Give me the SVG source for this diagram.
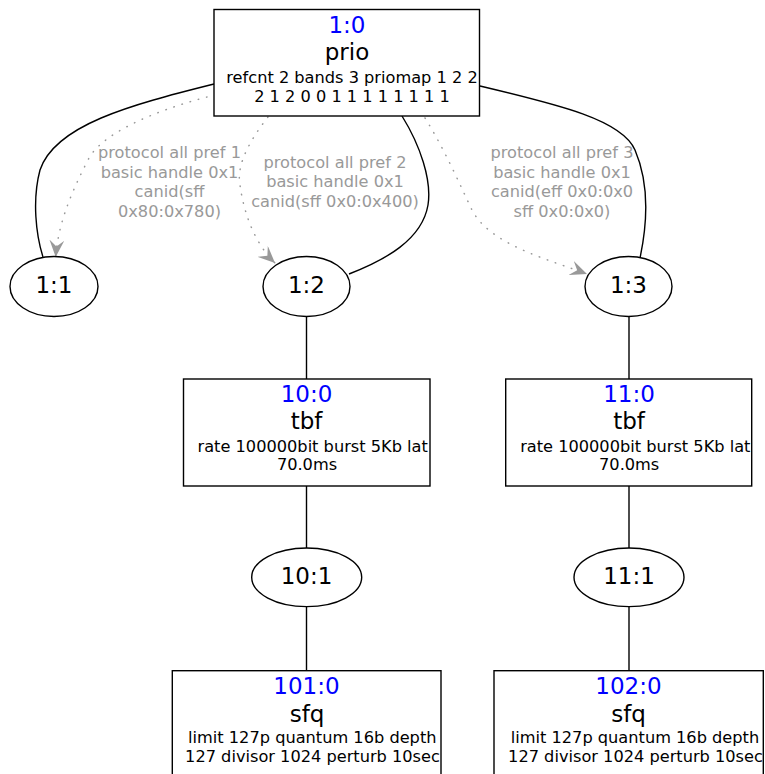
<svg xmlns="http://www.w3.org/2000/svg" width="765" height="774" viewBox="0 0 765 774">
  <style>
    text { font-family: "DejaVu Sans", "Liberation Sans", sans-serif; text-anchor: middle; }
    .box { fill: #ffffff; stroke: #000000; stroke-width: 1.4; }
    .id { fill: #0000ff; font-size: 23px; }
    .kind { fill: #000000; font-size: 23px; }
    .opts { fill: #000000; font-size: 16.2px; }
    .cls { fill: #000000; font-size: 23px; }
    .edge { fill: none; stroke: #000000; stroke-width: 1.4; }
    .filter { fill: none; stroke: #999999; stroke-width: 1.5; stroke-dasharray: 0.5 8; stroke-linecap: round; }
    .flabel { fill: #999999; font-size: 16.2px; }
  </style>
  <defs>
    <marker id="vee" viewBox="0 0 17 15" refX="17" refY="7.5" markerWidth="17" markerHeight="15" markerUnits="userSpaceOnUse" orient="auto">
      <path d="M17,7.5 L0,0 L6.5,7.5 L0,15 z" fill="#999999"/>
    </marker>
  </defs>

  <!-- connectors: qdisc/class hierarchy and filters -->
  <g id="connectors">
    <path class="edge" d="M214,84 C130,105 55,125 40,170 C32,200 36,235 43,257"/>
    <path class="edge" d="M402,116 C420,145 432,180 428,205 C422,240 385,260 349,274"/>
    <path class="edge" d="M480,86 C560,105 622,120 635,150 C650,185 647,225 640,258"/>
    <path class="filter" marker-end="url(#vee)" d="M207,97 C150,112 100,135 88,160 C70,195 58,225 55.7,257"/>
    <path class="filter" marker-end="url(#vee)" d="M268,117 C250,140 236,165 240,185 C244,215 256,245 275,263"/>
    <path class="filter" marker-end="url(#vee)" d="M425,118 C445,150 460,185 472,210 C490,245 550,260 587,274"/>
    <line class="edge" x1="306.5" y1="316" x2="306.5" y2="379"/>
    <line class="edge" x1="306.5" y1="486" x2="306.5" y2="548"/>
    <line class="edge" x1="306.5" y1="606" x2="306.5" y2="671"/>
    <line class="edge" x1="629" y1="316" x2="629" y2="379"/>
    <line class="edge" x1="629" y1="486" x2="629" y2="548"/>
    <line class="edge" x1="629" y1="606" x2="629" y2="671"/>
    <g id="filter-labels">
      <text class="flabel" x="169.5" y="158">protocol all pref 1</text>
      <text class="flabel" x="169.5" y="177.5">basic handle 0x1</text>
      <text class="flabel" x="169.5" y="197">canid(sff</text>
      <text class="flabel" x="169.5" y="216.5">0x80:0x780)</text>
      <text class="flabel" x="335" y="167.5">protocol all pref 2</text>
      <text class="flabel" x="335" y="187">basic handle 0x1</text>
      <text class="flabel" x="335" y="206.5">canid(sff 0x0:0x400)</text>
      <text class="flabel" x="562" y="158">protocol all pref 3</text>
      <text class="flabel" x="562" y="177.5">basic handle 0x1</text>
      <text class="flabel" x="562" y="197">canid(eff 0x0:0x0</text>
      <text class="flabel" x="562" y="216.5">sff 0x0:0x0)</text>
    </g>
  </g>

  <!-- root prio qdisc -->
  <g id="q1_0">
    <rect class="box" x="214" y="9.5" width="265.5" height="106.5"/>
    <text class="id" x="347" y="33">1:0</text>
    <text class="kind" x="347" y="60">prio</text>
    <text class="opts" x="352" y="83.3">refcnt 2 bands 3 priomap 1 2 2</text>
    <text class="opts" x="352" y="101.7">2 1 2 0 0 1 1 1 1 1 1 1 1</text>
  </g>

  <!-- prio bands -->
  <g id="c1_1">
    <ellipse class="box" cx="54" cy="286.5" rx="44" ry="30"/>
    <text class="cls" x="54" y="293">1:1</text>
  </g>
  <g id="c1_2">
    <ellipse class="box" cx="306.5" cy="286.5" rx="43.5" ry="30"/>
    <text class="cls" x="306.5" y="293">1:2</text>
  </g>
  <g id="c1_3">
    <ellipse class="box" cx="628.5" cy="286.5" rx="43.5" ry="30"/>
    <text class="cls" x="628.5" y="293">1:3</text>
  </g>

  <!-- tbf qdiscs -->
  <g id="q10_0">
    <rect class="box" x="183.5" y="379" width="246.5" height="107"/>
    <text class="id" x="306.5" y="401.7">10:0</text>
    <text class="kind" x="306.5" y="429.3">tbf</text>
    <text class="opts" x="312.7" y="451.7">rate 100000bit burst 5Kb lat</text>
    <text class="opts" x="307" y="470">70.0ms</text>
  </g>
  <g id="q11_0">
    <rect class="box" x="505.7" y="379" width="246" height="107"/>
    <text class="id" x="629" y="401.7">11:0</text>
    <text class="kind" x="629" y="429.3">tbf</text>
    <text class="opts" x="635.3" y="451.7">rate 100000bit burst 5Kb lat</text>
    <text class="opts" x="629.2" y="470">70.0ms</text>
  </g>

  <!-- tbf classes -->
  <g id="c10_1">
    <ellipse class="box" cx="306.7" cy="577.3" rx="55" ry="29.3"/>
    <text class="cls" x="306.5" y="584.3">10:1</text>
  </g>
  <g id="c11_1">
    <ellipse class="box" cx="629" cy="577.3" rx="55" ry="29.3"/>
    <text class="cls" x="629" y="584.3">11:1</text>
  </g>

  <!-- sfq leaf qdiscs -->
  <g id="q101_0">
    <rect class="box" x="172.3" y="670.7" width="268.7" height="120"/>
    <text class="id" x="306.5" y="694.3">101:0</text>
    <text class="kind" x="307" y="721.7">sfq</text>
    <text class="opts" x="312.3" y="742.7">limit 127p quantum 16b depth</text>
    <text class="opts" x="312.5" y="761.7">127 divisor 1024 perturb 10sec</text>
  </g>
  <g id="q102_0">
    <rect class="box" x="494" y="670.7" width="269.3" height="120"/>
    <text class="id" x="628.5" y="694.3">102:0</text>
    <text class="kind" x="628.5" y="721.7">sfq</text>
    <text class="opts" x="635" y="742.7">limit 127p quantum 16b depth</text>
    <text class="opts" x="635.5" y="761.7">127 divisor 1024 perturb 10sec</text>
  </g>
</svg>
